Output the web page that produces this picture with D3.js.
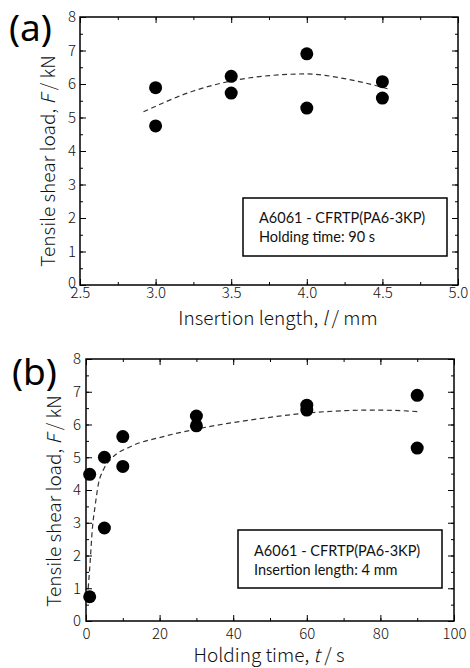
<!DOCTYPE html>
<html>
<head>
<meta charset="utf-8">
<script src="https://cdn.jsdelivr.net/npm/d3@7"></script>
<style>
  body { margin: 0; background: #fff; }
  svg { display: block; }
</style>
</head>
<body>
<div id="chart"></div>
<script>
// panel (a): insertion length vs tensile shear load
var insertionLen = [3.0, 3.0, 3.5, 3.5, 4.0, 4.0, 4.5, 4.5];
var loadA = [5.89, 4.75, 6.23, 5.73, 6.90, 5.28, 6.07, 5.58];
var trendAx = [2.92, 3.25, 3.5, 3.75, 4.0, 4.25, 4.55];
var trendAy = [5.17, 5.79, 6.09, 6.25, 6.30, 6.16, 5.84];
var xTicksA = [2.5, 3.0, 3.5, 4.0, 4.5, 5.0];

// panel (b): holding time vs tensile shear load
var holdTime = [1, 1, 5, 5, 10, 10, 30, 30, 60, 60, 90, 90];
var loadB = [4.48, 0.74, 5.0, 2.84, 5.63, 4.72, 6.26, 5.96, 6.59, 6.44, 6.89, 5.28];
var trendBx = [0.6, 1.1, 1.7, 2.45, 3.4, 4.7, 7, 12, 21, 30, 40, 50, 60, 70, 77, 84, 90.5];
var trendBy = [1.0, 1.76, 2.78, 3.49, 4.2, 4.61, 4.97, 5.32, 5.63, 5.86, 6.06, 6.22, 6.35, 6.42, 6.44, 6.43, 6.39];
var xTicksB = [0, 20, 40, 60, 80, 100];

var yTicks = [0, 1, 2, 3, 4, 5, 6, 7, 8];

var axisFont = '"Noto Sans CJK JP", "Noto Sans", sans-serif';
var boxFont = 'Lato, "Open Sans", sans-serif';

var svg = d3.select("#chart").append("svg")
    .attr("width", 470)
    .attr("height", 668);

function drawPanel(p) {
    var x = d3.scaleLinear().domain(p.xDomain).range([p.left, p.right]);
    var y = d3.scaleLinear().domain([0, 8]).range([p.bottom, p.top]);
    var g = svg.append("g");

    // minor ticks, all four sides, pointing inward
    var xMinor = d3.range(p.xDomain[0], p.xDomain[1] + 1e-9, p.xMinorStep);
    var yMinor = d3.range(0, 8.0001, 0.5);
    g.append("g").attr("transform", "translate(0," + p.bottom + ")")
        .call(d3.axisBottom(x).tickValues(xMinor).tickSizeInner(-3).tickSizeOuter(0).tickFormat(""));
    g.append("g").attr("transform", "translate(0," + p.top + ")")
        .call(d3.axisTop(x).tickValues(xMinor).tickSizeInner(-3).tickSizeOuter(0).tickFormat(""));
    g.append("g").attr("transform", "translate(" + p.left + ",0)")
        .call(d3.axisLeft(y).tickValues(yMinor).tickSizeInner(-3).tickSizeOuter(0).tickFormat(""));
    g.append("g").attr("transform", "translate(" + p.right + ",0)")
        .call(d3.axisRight(y).tickValues(yMinor).tickSizeInner(-3).tickSizeOuter(0).tickFormat(""));

    // major ticks + labels
    g.append("g").attr("transform", "translate(0," + p.bottom + ")")
        .call(d3.axisBottom(x).tickValues(p.xTicks).tickSizeInner(-6).tickSizeOuter(0)
            .tickPadding(p.xPad).tickFormat(p.xFormat));
    g.append("g").attr("transform", "translate(0," + p.top + ")")
        .call(d3.axisTop(x).tickValues(p.xTicks).tickSizeInner(-6).tickSizeOuter(0).tickFormat(""));
    var yax = g.append("g").attr("transform", "translate(" + p.left + ",0)")
        .call(d3.axisLeft(y).tickValues(yTicks).tickSizeInner(-6).tickSizeOuter(0)
            .tickPadding(p.yPad).tickFormat(d3.format("d")));
    g.append("g").attr("transform", "translate(" + p.right + ",0)")
        .call(d3.axisRight(y).tickValues(yTicks).tickSizeInner(-6).tickSizeOuter(0).tickFormat(""));

    g.selectAll(".tick line").attr("stroke", "#000").attr("stroke-width", 1);
    g.selectAll(".domain").remove();
    g.selectAll(".tick text")
        .attr("font-family", axisFont)
        .attr("font-weight", 300)
        .attr("font-size", 15)
        .attr("fill", "#111");
    // "0" sits a touch high in the original
    yax.selectAll(".tick text").filter(function(d) { return d === 0; }).attr("dy", p.zeroDy);

    // frame
    g.append("rect")
        .attr("x", p.left).attr("y", p.top)
        .attr("width", p.right - p.left).attr("height", p.bottom - p.top)
        .attr("fill", "none").attr("stroke", "#000").attr("stroke-width", 1.5);

    // dashed trend
    var trend = p.trendX.map(function(d, i) { return [d, p.trendY[i]]; });
    g.append("path")
        .datum(trend)
        .attr("fill", "none")
        .attr("stroke", "#333")
        .attr("stroke-width", 1.2)
        .attr("stroke-dasharray", "5,3.5")
        .attr("d", d3.line()
            .x(function(d) { return x(d[0]); })
            .y(function(d) { return y(d[1]); })
            .curve(d3.curveMonotoneX));

    // points
    g.selectAll("circle.pt")
        .data(p.xs)
        .enter().append("circle")
        .attr("class", "pt")
        .attr("cx", function(d) { return x(d); })
        .attr("cy", function(d, i) { return y(p.ys[i]); })
        .attr("r", 6.5)
        .attr("fill", "#000");

    // legend box
    var b = p.box;
    g.append("rect")
        .attr("x", b.x).attr("y", b.y).attr("width", b.w).attr("height", b.h)
        .attr("fill", "#fff").attr("stroke", "#000").attr("stroke-width", 1.5);
    b.lines.forEach(function(t, i) {
        g.append("text")
            .attr("x", b.tx).attr("y", b.ty + i * 19)
            .attr("font-family", boxFont).attr("font-size", 14.5)
            .attr("fill", "#111")
            .text(t);
    });

    // panel tag
    g.append("text")
        .attr("x", p.tagX).attr("y", p.tagY)
        .attr("font-family", '"Noto Sans", sans-serif')
        .attr("font-size", 37)
        .attr("fill", "#000")
        .text(p.tag);

    // y label
    var yl = g.append("text")
        .attr("transform", "translate(" + p.yLabelX + "," + p.yLabelY + ") rotate(-90)")
        .attr("text-anchor", "middle")
        .attr("font-family", axisFont).attr("font-weight", 300)
        .attr("font-size", 19).attr("fill", "#111");
    yl.append("tspan").text("Tensile shear load, ");
    yl.append("tspan").attr("font-style", "italic").text("F");
    yl.append("tspan").text(" / kN");

    // x label
    var xl = g.append("text")
        .attr("x", p.xLabelX).attr("y", p.xLabelY)
        .attr("text-anchor", "middle")
        .attr("font-family", axisFont).attr("font-weight", 300)
        .attr("font-size", 19).attr("fill", "#111");
    xl.append("tspan").text(p.xLabel[0]);
    xl.append("tspan").attr("font-style", "italic").text(p.xLabel[1]);
    xl.append("tspan").text(p.xLabel[2]);
}

drawPanel({
    tag: "(a)", tagX: 9, tagY: 41,
    left: 80, right: 458, top: 17, bottom: 285,
    xDomain: [2.5, 5.0], xMinorStep: 0.25, xTicks: xTicksA,
    xFormat: d3.format(".1f"), xPad: 2, yPad: 4, zeroDy: "0.15em",
    xs: insertionLen, ys: loadA, trendX: trendAx, trendY: trendAy,
    box: { x: 243, y: 198, w: 204, h: 58, tx: 259, ty: 223,
           lines: ["A6061 - CFRTP(PA6-3KP)", "Holding time: 90 s"] },
    yLabelX: 55, yLabelY: 161,
    xLabelX: 278, xLabelY: 325,
    xLabel: ["Insertion length, ", "l", " /  mm"]
});

drawPanel({
    tag: "(b)", tagX: 12, tagY: 385,
    left: 86, right: 454, top: 359, bottom: 621,
    xDomain: [0, 100], xMinorStep: 10, xTicks: xTicksB,
    xFormat: d3.format("d"), xPad: 7, yPad: 5, zeroDy: "0.32em",
    xs: holdTime, ys: loadB, trendX: trendBx, trendY: trendBy,
    box: { x: 238, y: 530, w: 204, h: 58, tx: 254, ty: 556,
           lines: ["A6061 - CFRTP(PA6-3KP)", "Insertion length: 4 mm"] },
    yLabelX: 61, yLabelY: 501,
    xLabelX: 269, xLabelY: 662,
    xLabel: ["Holding time, ", "t", " /  s"]
});
</script>
</body>
</html>
